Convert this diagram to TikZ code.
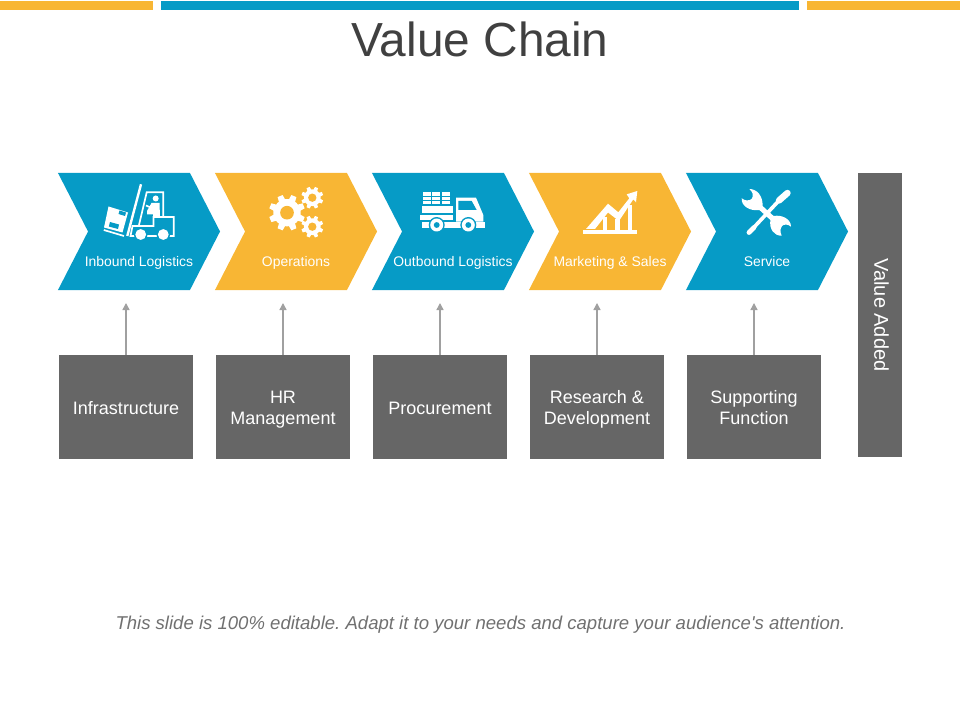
\documentclass[tikz,border=0pt]{standalone}
\usepackage{fontspec}
\setmainfont{Liberation Sans}
\newfontfamily\notefont{Liberation Sans}
\usetikzlibrary{shapes.symbols, arrows.meta}
\definecolor{myblue}{RGB}{6,155,198}
\definecolor{myamber}{RGB}{248,182,52}
\definecolor{mygrey}{RGB}{102,102,102}
\definecolor{myarrow}{RGB}{160,160,160}
\definecolor{mytitle}{RGB}{64,64,64}
\definecolor{mynote}{RGB}{112,112,112}
\tikzset{
  chevron/.style={signal, signal to=east, signal from=west, signal pointer angle=125.6,
    minimum width=4.05cm, minimum height=2.925cm, inner sep=0pt, outer sep=0pt, draw=none},
  bluechev/.style={chevron, fill=myblue},
  amberchev/.style={chevron, fill=myamber},
  chevlabel/.style={text=white, anchor=base, font=\fontsize{9.9}{12}\selectfont, inner sep=0pt},
  greybox/.style={rectangle, fill=mygrey, text=white, align=center, inner sep=0pt, outer sep=0pt,
    minimum width=3.35cm, minimum height=2.6cm, font=\fontsize{12.8}{14.9}\selectfont,
    text height=14.3pt, text depth=3.7pt},
  twoline/.style={text height=28.5pt, text depth=3.7pt},
  uparrow/.style={-{Triangle[length=5pt,width=5pt]}, line width=1pt, color=myarrow},
  icon/.style={line width=1.2pt, draw=white}
}
\newcommand{\gearicon}[4]{%
  \begin{scope}[shift={(#1,#2)}, scale=#3]
    \fill[white] (0,0) circle (0.76);
    \foreach \ang in {0,45,...,315}
      \fill[white, rotate=\ang+22.5] (-0.2,0.6) -- (-0.15,1) -- (0.15,1) -- (0.2,0.6) -- cycle;
    \fill[#4] (0,0) circle (0.38);
  \end{scope}}
\newcommand{\wheelicon}[3]{%
  \fill[myblue] (#1,#2) circle (#3+1.5);
  \fill[white] (#1,#2) circle (#3);
  \fill[myblue] (#1,#2) circle (#3*0.45);
  }
\begin{document}
\begin{tikzpicture}[x=0.025cm, y=-0.025cm]
  \useasboundingbox (0,0) rectangle (960,720);

  % --- TOP BARS ---
  \fill[myamber] (0,1) rectangle (153,10);
  \fill[myblue] (161,1) rectangle (799,10);
  \fill[myamber] (807,1) rectangle (960,10);
  \node[text=mytitle, font=\fontsize{34}{40}\selectfont] (title) at (480,39.5) {Value Chain};

  % --- PRIMARY ACTIVITIES ---
  \node[bluechev] (inbound) at (139,231.5) {};
  \node[amberchev] (operations) at (296,231.5) {};
  \node[bluechev] (outbound) at (453,231.5) {};
  \node[amberchev] (marketing) at (610,231.5) {};
  \node[bluechev] (service) at (767,231.5) {};

  \node[chevlabel] (inboundtxt) at (139,266.7) {Inbound Logistics};
  \node[chevlabel] (operationstxt) at (296,266.7) {Operations};
  \node[chevlabel] (outboundtxt) at (453,266.7) {Outbound Logistics};
  \node[chevlabel] (marketingtxt) at (610,266.7) {Marketing \& Sales};
  \node[chevlabel] (servicetxt) at (767,266.7) {Service};

  % --- FORKLIFT ---
  \draw[white, line width=1.7pt] (141,184.3) -- (127.3,236);
  \fill[white] (108.5,206.5) -- (128,212.5) -- (122.5,232.5) -- (104,227.5) -- cycle;
  \fill[myblue] (119.5,210.5) -- (126,212.5) -- (125,216) -- (118.5,214) -- cycle;
  \fill[myblue] (110,222) -- (119,224.5) -- (118,229) -- (108.8,226.5) -- cycle;
  \draw[white, line width=1.2pt] (103.8,230) -- (124,236);
  \draw[icon] (139,225) -- (146.7,192.3) -- (163.3,192.3) -- (163.3,217);
  \draw[icon] (153.5,217) -- (173.8,217) -- (173.8,236) -- (130.5,236) -- (132.5,226) -- (153.5,226) -- cycle;
  \fill[white] (155.7,198.5) circle (3);
  \fill[white] (151.5,203) -- (159.5,203) -- (160,217) -- (153,217) -- (153,214.5) -- (147,214.5) -- (147,211) -- cycle;
  \draw[icon] (146,205.5) -- (153,208.5);
  \fill[myblue] (140.7,234.5) circle (6.8);
  \fill[white] (140.7,234.5) circle (5.4);
  \fill[myblue] (163.3,234.5) circle (6.8);
  \fill[white] (163.3,234.5) circle (5.4);

  % --- GEARS ---
  \gearicon{287}{212.7}{18}{myamber}
  \gearicon{312.3}{197.7}{11}{myamber}
  \gearicon{312.3}{226.7}{11}{myamber}

  % --- TRUCK ---
  \foreach \cx in {422.7,432.4,442.1}
    \foreach \cy in {192.3,196.7,201.1}
      \fill[white] (\cx,\cy) rectangle +(8,3.3);
  \fill[white] (421.7,206) rectangle (453.3,213.3);
  \fill[white] (420,214.8) rectangle (453.3,220.5);
  \fill[white] (421.7,222.3) rectangle (485,228.3);
  \fill[white] (456,197.7) -- (476,197.7) -- (483.3,215) -- (483.3,221.7) -- (456,221.7) -- cycle;
  \fill[myblue] (458.3,201) -- (471.7,201) -- (476.7,210) -- (458.3,210) -- cycle;
  \wheelicon{436.7}{225}{6.5}
  \wheelicon{468.3}{225}{6.5}

  % --- CHART ---
  \fill[white] (582.7,230) rectangle (637.3,234);
  \fill[white] (586,229) -- (608,203.7) -- (618.3,212.3) -- (629.3,198.3) -- (626.7,194.3) -- (637.3,191)
    -- (636,202.3) -- (633.3,199.3) -- (619,221) -- (608,212.5) -- (595,229) -- cycle;
  \fill[white] (603.3,217) rectangle (606.7,230);
  \fill[white] (615,219) rectangle (620,230);
  \fill[white] (628,205) rectangle (631.5,230);

  % --- TOOLS ---
  \draw[white, line width=2.6pt] (779,200.5) -- (751,230.5);
  \draw[white, line width=3.4pt, line cap=round] (754,227.5) -- (749,232.5);
  \draw[white, line width=4.6pt, line cap=round] (787.5,193) -- (779,200.5);
  \fill[white] (749.3,189) .. controls (757,189) and (763,196) .. (762.6,206) -- (773.6,216)
    .. controls (782,214.5) and (791,219) .. (791,226.7) .. controls (788,224) and (784,224) .. (782,226)
    .. controls (780,229) and (780,232) .. (781.7,235.7) .. controls (774,236) and (769,229) .. (770.4,220)
    -- (759.4,210) .. controls (750,211.5) and (741,206) .. (741.7,198.3)
    .. controls (745,201) and (749,201) .. (751.5,199) .. controls (754,196) and (753,192) .. (749.3,189) -- cycle;

  % --- SUPPORT ACTIVITIES ---
  \node[greybox] (infra) at (126,407) {Infrastructure};
  \node[greybox, twoline] (hr) at (283,407) {HR\\Management};
  \node[greybox] (procure) at (440,407) {Procurement};
  \node[greybox, twoline] (research) at (597,407) {Research \&\\Development};
  \node[greybox, twoline] (support) at (754,407) {Supporting\\Function};

  \coordinate (infratip) at (126,303);
  \coordinate (hrtip) at (283,303);
  \coordinate (procuretip) at (440,303);
  \coordinate (researchtip) at (597,303);
  \coordinate (supporttip) at (754,303);

  \draw[uparrow] (infra.north) -- (infratip);
  \draw[uparrow] (hr.north) -- (hrtip);
  \draw[uparrow] (procure.north) -- (procuretip);
  \draw[uparrow] (research.north) -- (researchtip);
  \draw[uparrow] (support.north) -- (supporttip);

  % --- VALUE ADDED ---
  \node[rectangle, fill=mygrey, inner sep=0pt, minimum width=1.1cm, minimum height=7.1cm] (valuebar) at (880,315) {};
  \node[rotate=-90, text=white, font=\fontsize{14.2}{16}\selectfont, inner sep=0pt] (valuetxt) at (881.5,315) {Value Added};

  \node[text=mynote, font=\notefont\fontsize{13.2}{16}\selectfont\itshape\frenchspacing] (note) at (480.5,625)
    {This slide is 100\% editable. Adapt it to your needs and capture your audience's attention.};
\end{tikzpicture}
\end{document}
